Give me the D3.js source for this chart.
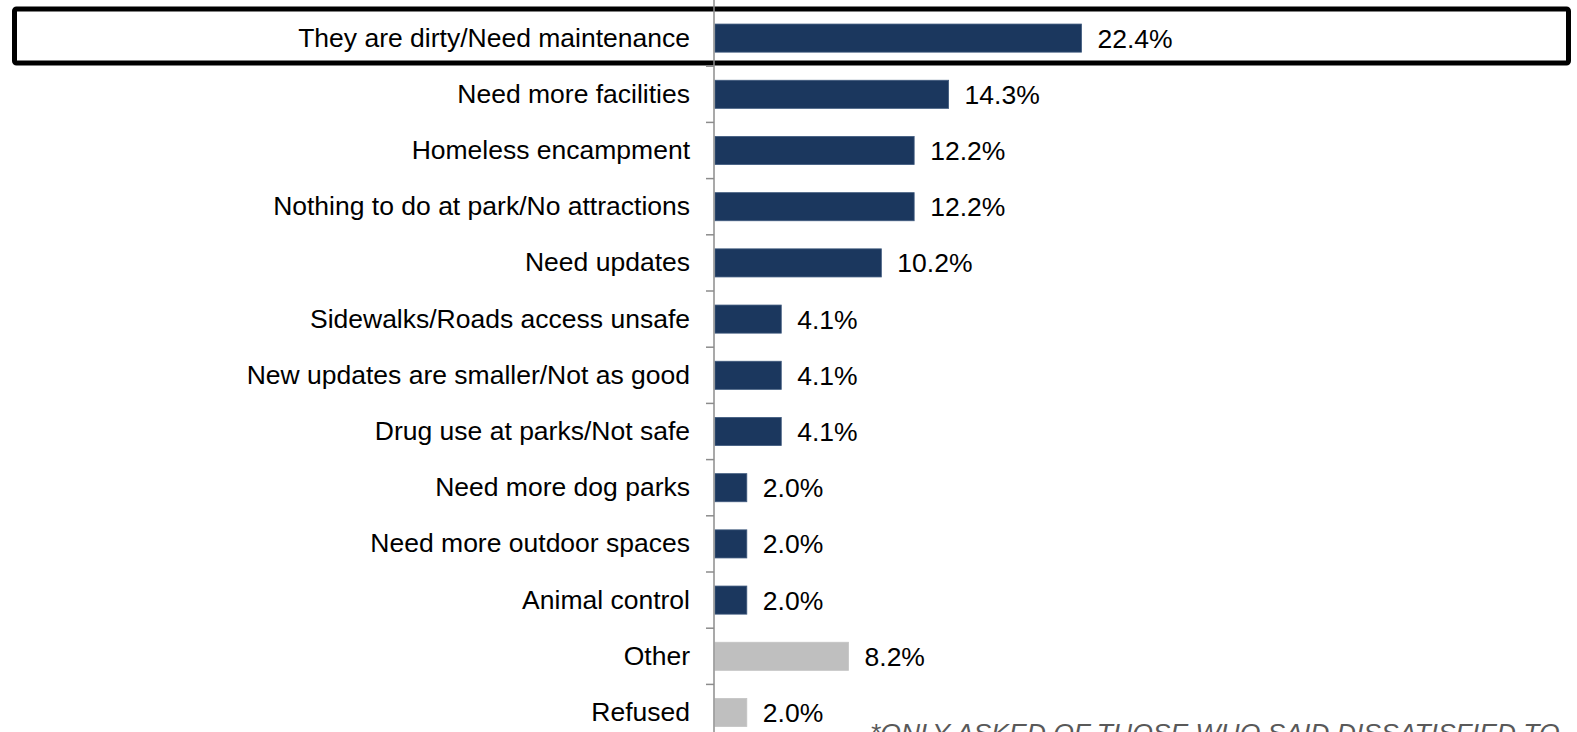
<!DOCTYPE html>
<html>
<head>
<meta charset="utf-8">
<script src="https://cdn.jsdelivr.net/npm/d3@7"></script>
<style>
  body { margin: 0; background: #fff; }
  svg { display: block; font-family: "Liberation Sans", Arial, sans-serif; }
</style>
</head>
<body>
<svg width="1577" height="732"></svg>
<script>
var categories = [
  "They are dirty/Need maintenance",
  "Need more facilities",
  "Homeless encampment",
  "Nothing to do at park/No attractions",
  "Need updates",
  "Sidewalks/Roads access unsafe",
  "New updates are smaller/Not as good",
  "Drug use at parks/Not safe",
  "Need more dog parks",
  "Need more outdoor spaces",
  "Animal control",
  "Other",
  "Refused"
];
var values = [22.4, 14.3, 12.2, 12.2, 10.2, 4.1, 4.1, 4.1, 2.0, 2.0, 2.0, 8.2, 2.0];
var greyCats = ["Other", "Refused"];
var footnote = "*ONLY ASKED OF THOSE WHO SAID DISSATISFIED TO";

var svg = d3.select("svg"),
    width = +svg.attr("width"),
    height = +svg.attr("height");

var x0 = 714;

var x = d3.scaleLinear()
    .domain([0, 22.4])
    .range([x0, 1081.5]);

var y = d3.scaleBand()
    .domain(categories)
    .range([10, 10 + 13 * 56.2])
    .paddingInner(0.5)
    .paddingOuter(0.25);

// highlight box round the top row
svg.append("rect")
    .attr("x", 14.5)
    .attr("y", 9)
    .attr("width", 1554)
    .attr("height", 54)
    .attr("rx", 2)
    .attr("fill", "none")
    .attr("stroke", "#000")
    .attr("stroke-width", 5);

// bars
svg.append("g")
  .selectAll("rect")
  .data(categories)
  .enter().append("rect")
    .attr("x", x0 + 1)
    .attr("y", function(d) { return y(d); })
    .attr("width", function(d, i) { return x(values[i]) - x0 - 1; })
    .attr("height", y.bandwidth())
    .attr("fill", function(d) { return greyCats.indexOf(d) > -1 ? "#bfbfbf" : "#1b375e"; })
    .attr("stroke", function(d) { return greyCats.indexOf(d) > -1 ? "#c4c4c4" : "#3f5a7e"; })
    .attr("stroke-width", 0.8);

// value labels
svg.append("g")
  .selectAll("text")
  .data(categories)
  .enter().append("text")
    .attr("x", function(d, i) { return x(values[i]) + 16; })
    .attr("y", function(d) { return y(d) + y.bandwidth() / 2; })
    .attr("dy", "0.36em")
    .attr("font-size", "26.5px")
    .attr("fill", "#000")
    .text(function(d, i) { return values[i].toFixed(1) + "%"; });

// category axis
var axis = svg.append("g")
    .attr("transform", "translate(" + x0 + ",0)")
    .call(d3.axisLeft(y).tickSize(0).tickPadding(24));

axis.select(".domain").remove();
axis.selectAll("text")
    .attr("font-size", "26.5px")
    .attr("font-family", "Liberation Sans, Arial, sans-serif")
    .attr("fill", "#000");

// axis line and ticks at band boundaries
svg.append("line")
    .attr("x1", x0).attr("x2", x0)
    .attr("y1", 0).attr("y2", height)
    .attr("stroke", "#8c8c8c")
    .attr("stroke-width", 1.5);

var bounds = categories.slice(1).map(function(d) { return y(d) - y.step() * y.paddingInner() / 2; });
svg.append("g")
  .selectAll("line")
  .data(bounds)
  .enter().append("line")
    .attr("x1", x0 - 8).attr("x2", x0)
    .attr("y1", function(d) { return d; })
    .attr("y2", function(d) { return d; })
    .attr("stroke", "#8c8c8c")
    .attr("stroke-width", 1.5);

// footnote, cut off by the page edge as in the source slide
svg.append("text")
    .attr("x", 870)
    .attr("y", 742)
    .attr("font-size", "26.5px")
    .attr("font-style", "italic")
    .attr("fill", "#595959")
    .text(footnote);
</script>
</body>
</html>
